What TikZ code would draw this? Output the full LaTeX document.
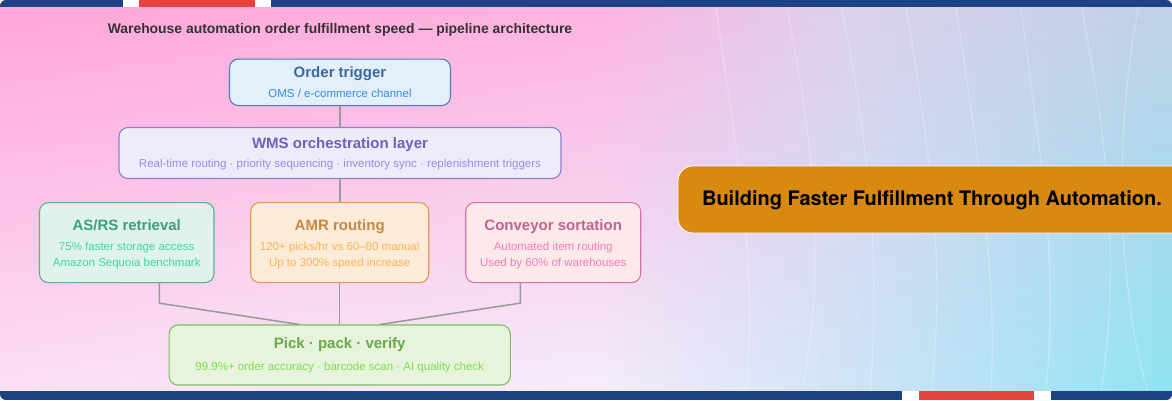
\documentclass[tikz,border=0pt]{standalone}
\usepackage{fontspec}
\setmainfont{Liberation Sans}
\newfontfamily\bannerfont{TeX Gyre Heros}
\definecolor{barblue}{HTML}{1E4382}
\definecolor{barred}{HTML}{E8423F}
\definecolor{ttl}{HTML}{333333}
\definecolor{conncol}{HTML}{9A9A9A}
\definecolor{bannerfill}{HTML}{D8890F}
\definecolor{ordF}{HTML}{E3F0FB}\definecolor{ordD}{HTML}{4D7DBA}\definecolor{ordT}{HTML}{3C68A0}\definecolor{ordS}{HTML}{3A8AE0}
\definecolor{wmsF}{HTML}{EFEBFA}\definecolor{wmsD}{HTML}{8C80D2}\definecolor{wmsT}{HTML}{6F60BE}\definecolor{wmsS}{HTML}{9B8AEB}
\definecolor{asrF}{HTML}{DFF3EC}\definecolor{asrD}{HTML}{56B293}\definecolor{asrT}{HTML}{3F9E7B}\definecolor{asrS}{HTML}{3FD89E}
\definecolor{amrF}{HTML}{FCEBD7}\definecolor{amrD}{HTML}{DB9B52}\definecolor{amrT}{HTML}{C68944}\definecolor{amrS}{HTML}{F9B45E}
\definecolor{cnvF}{HTML}{FCE9EA}\definecolor{cnvD}{HTML}{D374A4}\definecolor{cnvT}{HTML}{C26391}\definecolor{cnvS}{HTML}{F47EB4}
\definecolor{pckF}{HTML}{E7F4DB}\definecolor{pckD}{HTML}{80BC66}\definecolor{pckT}{HTML}{6BA84E}\definecolor{pckS}{HTML}{7EDD55}
% background stops
\definecolor{Ta}{HTML}{FFA5D9}\definecolor{Tb}{HTML}{FDB2DF}\definecolor{Tc}{HTML}{DCD0EE}\definecolor{Td}{HTML}{C0D0E6}
\definecolor{Ba}{HTML}{FCE0F6}\definecolor{Bb}{HTML}{F4EEFC}\definecolor{Bc}{HTML}{D0E4F8}\definecolor{Bd}{HTML}{8EE4F2}
\tikzset{
  box/.style={draw=#1D, fill=#1F, line width=1.1pt, rounded corners=9pt, inner sep=0pt},
  boxtitle/.style={text=#1T, font=\fontsize{15}{18}\selectfont\bfseries, inner sep=0pt, text height=.72em, text depth=0pt},
  boxsub/.style={text=#1S, font=\fontsize{11.5}{14}\selectfont, inner sep=0pt, text height=.72em, text depth=0pt},
  conn/.style={draw=conncol, line width=1.5pt},
  streak/.style={draw=white, opacity=0.28, line width=1.2pt},
}
\begin{document}
\begin{tikzpicture}[x=1pt,y=-1pt]
\useasboundingbox (0,0) rectangle (1172,400);
\fill[white] (0,0) rectangle (1172,400);
\begin{scope}
\clip[rounded corners=6pt] (0,0) rectangle (1172,400);
% background gradient strips
\foreach \i in {0,...,59}{
  \pgfmathsetmacro\xa{\i*19.5333}
  \pgfmathsetmacro\xc{\xa+9.7667}
  \ifdim \xc pt<600pt
    \pgfmathsetmacro\p{\xc/6}
    \colorlet{tc}{Tb!\p!Ta}\colorlet{bc}{Bb!\p!Ba}
  \else\ifdim \xc pt<850pt
    \pgfmathsetmacro\p{(\xc-600)/2.5}
    \colorlet{tc}{Tc!\p!Tb}\colorlet{bc}{Bc!\p!Bb}
  \else
    \pgfmathsetmacro\p{(\xc-850)/3.22}
    \colorlet{tc}{Td!\p!Tc}\colorlet{bc}{Bd!\p!Bc}
  \fi\fi
  \shade[top color=tc,bottom color=bc] (\xa,0) rectangle ++(20.3,400);
}
% faint streaks
\draw[streak] (715,0) .. controls (735,150) and (760,260) .. (745,400);
\draw[streak] (785,0) .. controls (810,120) and (830,260) .. (800,400);
\draw[streak] (840,0) .. controls (870,150) and (880,250) .. (870,400);
\draw[streak] (905,0) .. controls (935,180) and (945,280) .. (930,400);
\draw[streak] (955,0) .. controls (975,140) and (1000,280) .. (990,400);
\draw[streak] (1020,0) .. controls (1040,160) and (1060,260) .. (1045,400);
\draw[streak] (1080,0) .. controls (1110,150) and (1120,270) .. (1100,400);
\draw[streak] (1140,0) .. controls (1110,150) and (1120,300) .. (1150,400);
% top bar
\fill[barblue] (0,0) rectangle (123,7.3);
\fill[white] (123,0) rectangle (139,7.3);
\fill[barred] (139,0) rectangle (255,7.3);
\fill[white] (255,0) rectangle (271,7.3);
\fill[barblue] (271,0) rectangle (1172,7.3);
% bottom bar
\fill[barblue] (0,390.7) rectangle (902,400);
\fill[white] (902,390.7) rectangle (919,400);
\fill[barred] (919,390.7) rectangle (1034,400);
\fill[white] (1034,390.7) rectangle (1051,400);
\fill[barblue] (1051,390.7) rectangle (1172,400);
% banner
\node[fill=bannerfill, draw=white, line width=0.8pt, rounded corners=15pt, minimum width=540pt, minimum height=67pt, inner sep=0pt] (banner) at (948,199.5) {};
\end{scope}
\node[font=\bannerfont\fontsize{20}{24}\selectfont\bfseries, text=black, inner sep=0pt] (bannertext) at (932,200) {Building Faster Fulfillment Through Automation.};
% title
\node[font=\fontsize{13.9}{16}\selectfont\bfseries, text=ttl, inner sep=0pt] (title) at (340,30) {Warehouse automation order fulfillment speed — pipeline architecture};
% boxes
\node[box=ord, minimum width=221pt, minimum height=46.5pt] (order) at (340,82.3) {};
\node[boxtitle=ord] (orderT) at (340,74) {Order trigger};
\node[boxsub=ord] (orderS) at (340,94.3) {OMS / e-commerce channel};

\node[box=wms, minimum width=442pt, minimum height=51pt] (wms) at (340,153) {};
\node[boxtitle=wms] (wmsT) at (340,145) {WMS orchestration layer};
\node[boxsub=wms] (wmsS) at (340,164.3) {Real-time routing · priority sequencing · inventory sync · replenishment triggers};

\node[box=asr, minimum width=174.5pt, minimum height=80pt] (asrs) at (126.75,242.6) {};
\node[boxtitle=asr] (asrsT) at (126.75,226.7) {AS/RS retrieval};
\node[boxsub=asr] (asrsS1) at (126.75,247) {75\% faster storage access};
\node[boxsub=asr] (asrsS2) at (126.75,262.5) {Amazon Sequoia benchmark};

\node[box=amr, minimum width=178pt, minimum height=80pt] (amr) at (339.7,242.6) {};
\node[boxtitle=amr] (amrT) at (339.7,226.7) {AMR routing};
\node[boxsub=amr] (amrS1) at (339.7,247) {120+ picks/hr vs 60–80 manual};
\node[boxsub=amr] (amrS2) at (339.7,262.5) {Up to 300\% speed increase};

\node[box=cnv, minimum width=175pt, minimum height=80pt] (conv) at (553.2,242.6) {};
\node[boxtitle=cnv] (convT) at (553.2,226.7) {Conveyor sortation};
\node[boxsub=cnv] (convS1) at (553.2,247) {Automated item routing};
\node[boxsub=cnv] (convS2) at (553.2,262.5) {Used by 60\% of warehouses};

\node[box=pck, minimum width=341.3pt, minimum height=60pt] (pick) at (339.7,355) {};
\node[boxtitle=pck] (pickT) at (339.7,345) {Pick · pack · verify};
\node[boxsub=pck] (pickS) at (339.7,366.7) {99.9\%+ order accuracy · barcode scan · AI quality check};
% connectors
\draw[conn] (order.south) -- (wms.north);
\draw[conn] (wms.south) -- (wms.south |- amr.north);
\draw[conn] (amr.south) -- (amr.south |- pick.north);
\draw[conn] ([xshift=32.5pt]asrs.south) -- ++(0,20) -- ([xshift=-40.4pt]pick.north);
\draw[conn] ([xshift=-32.9pt]conv.south) -- ++(0,20) -- ([xshift=40.3pt]pick.north);
\end{tikzpicture}
\end{document}
